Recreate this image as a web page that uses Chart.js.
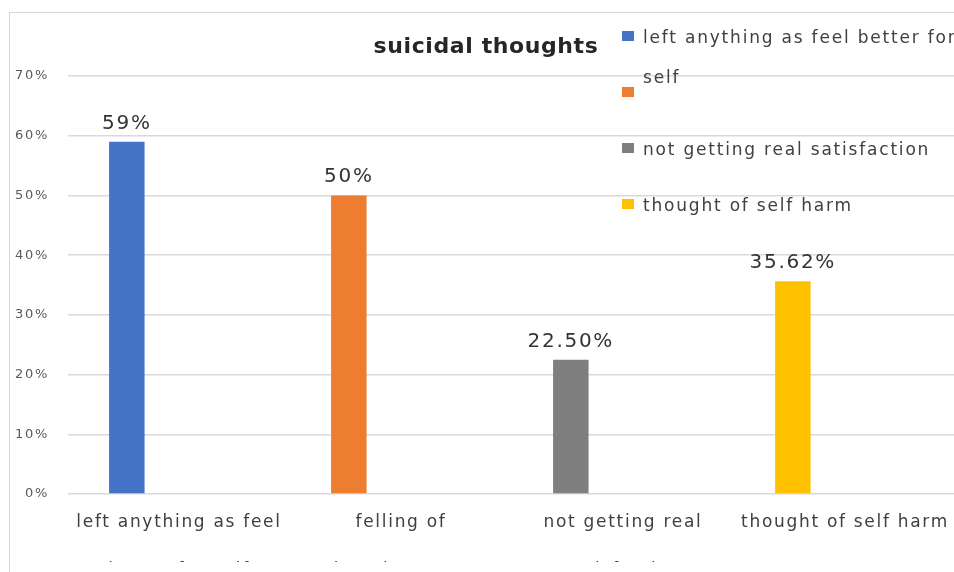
<!DOCTYPE html>
<html lang="en">
<head>
  <meta charset="UTF-8" />
  <title>suicidal thoughts</title>
  <script src="https://cdn.jsdelivr.net/npm/chart.js"></script>
  <style>
    html, body {
      margin: 0;
      padding: 0;
      width: 954px;
      height: 572px;
      overflow: hidden;
      background: #fff;
    }
    .frame {
      position: absolute;
      left: 9px;
      top: 12px;
      width: 1100px;
      height: 700px;
      border: 1.5px solid #d9d9d9;
    }
    .chart-box {
      position: absolute;
      left: 0;
      top: 0;
      width: 960px;
      height: 562px;
    }
  </style>
</head>
<body>
  <div class="frame"></div>
  <div class="chart-box"><canvas id="thoughtsChart"></canvas></div>

  <script>
    const chartTitle = 'suicidal thoughts';
    const categories = [
      ['left anything as feel', 'better for self'],
      ['felling of', 'hopelessness'],
      ['not getting real', 'satisfaction'],
      ['thought of self harm']
    ];
    const seriesNames = ['left anything as feel better for self', '', 'not getting real satisfaction', 'thought of self harm'];
    const seriesValues = [59, 50, 22.5, 35.62];
    const seriesColors = ['#4472C4', '#ED7D31', '#7F7F7F', '#FFC000'];
    const yTicks = [0, 10, 20, 30, 40, 50, 60, 70];

    const FONT = '"DejaVu Sans", Verdana, sans-serif';

    function pct(v) {
      return Number.isInteger(v) ? v + '%' : v.toFixed(2) + '%';
    }

    // one dataset per series, each only filled in its own category;
    // an empty second stack keeps the bars to the left of each category
    const datasets = seriesNames.map((name, i) => ({
      label: name,
      data: categories.map((_, j) => (j === i ? seriesValues[i] : null)),
      backgroundColor: seriesColors[i],
      stack: 'series'
    }));
    datasets.push({
      label: 'spacer',
      data: categories.map(() => null),
      backgroundColor: 'transparent',
      stack: 'spacer'
    });

    function wrapText(ctx, text, maxWidth) {
      const words = text.split(' ');
      const lines = [];
      let line = '';
      words.forEach(w => {
        const test = line ? line + ' ' + w : w;
        if (line && ctx.measureText(test).width > maxWidth) {
          lines.push(line);
          line = w;
        } else {
          line = test;
        }
      });
      if (line) lines.push(line);
      return lines;
    }

    const decorations = {
      id: 'decorations',
      beforeDraw(chart) {
        chart.ctx.letterSpacing = '1.7px';
      },
      afterDatasetsDraw(chart) {
        const ctx = chart.ctx;
        ctx.save();
        ctx.font = '20px ' + FONT;
        ctx.letterSpacing = '1.7px';
        ctx.fillStyle = '#333333';
        ctx.textAlign = 'center';
        ctx.textBaseline = 'alphabetic';
        seriesValues.forEach((v, i) => {
          const bar = chart.getDatasetMeta(i).data[i];
          ctx.fillText(pct(v), bar.x, bar.y - 13);
        });
        ctx.restore();
      },
      afterDraw(chart) {
        const ctx = chart.ctx;
        ctx.save();

        // title
        ctx.font = 'bold 22px ' + FONT;
        ctx.letterSpacing = '0.6px';
        ctx.fillStyle = '#262626';
        ctx.textAlign = 'center';
        ctx.textBaseline = 'alphabetic';
        ctx.fillText(chartTitle, 486, 53);

        // legend, top right over the plot
        ctx.font = '17px ' + FONT;
        ctx.letterSpacing = '1.8px';
        ctx.textAlign = 'left';
        seriesNames.forEach((name, i) => {
          const cy = 36 + i * 56;
          ctx.fillStyle = seriesColors[i];
          ctx.fillRect(622, cy - 5, 12, 10);
          ctx.fillStyle = '#404040';
          wrapText(ctx, name, 330).forEach((line, k) => {
            ctx.fillText(line, 643, cy + 7 + k * 40);
          });
        });

        ctx.restore();
        ctx.letterSpacing = '0px';
      }
    };

    const ctx = document.getElementById('thoughtsChart').getContext('2d');
    const chart = new Chart(ctx, {
      type: 'bar',
      data: {
        labels: categories,
        datasets: datasets
      },
      options: {
        responsive: true,
        maintainAspectRatio: false,
        animation: false,
        devicePixelRatio: 1,
        layout: {
          padding: { top: 76, left: 0, right: 4, bottom: 0 }
        },
        datasets: {
          bar: { categoryPercentage: 0.94, barPercentage: 0.34 }
        },
        plugins: {
          legend: { display: false },
          title: { display: false },
          tooltip: { enabled: false }
        },
        scales: {
          x: {
            stacked: true,
            grid: { display: false, drawTicks: false },
            border: { display: false },
            ticks: {
              autoSkip: false,
              maxRotation: 0,
              minRotation: 0,
              padding: 5,
              color: '#404040',
              font: { family: FONT, size: 17, lineHeight: 2.8 }
            },
            afterFit(scale) { scale.height = 68; }
          },
          y: {
            stacked: true,
            min: yTicks[0],
            max: yTicks[yTicks.length - 1],
            grid: { color: '#d9d9d9', lineWidth: 1.5, drawTicks: false },
            border: { display: false },
            ticks: {
              stepSize: yTicks[1] - yTicks[0],
              padding: 19,
              color: '#595959',
              font: { family: FONT, size: 13 },
              callback: v => v + '%'
            },
            afterFit(scale) { scale.width = 68; }
          }
        }
      },
      plugins: [decorations]
    });
  </script>
</body>
</html>
